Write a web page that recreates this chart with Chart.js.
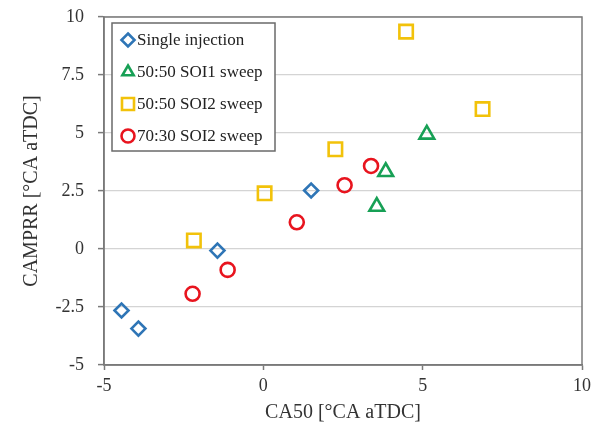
<!DOCTYPE html>
<html>
<head>
<meta charset="utf-8">
<script src="https://cdn.jsdelivr.net/npm/chart.js@4/dist/chart.umd.min.js"></script>
<style>
  html, body { margin: 0; padding: 0; background: #fff; }
  canvas { display: block; }
</style>
</head>
<body>
<canvas id="chart" width="606" height="432"></canvas>
<script>
// Data
const singleX = [-4.45, -3.92, -1.44, 1.5];
const singleY = [-2.65, -3.43, -0.07, 2.52];

const soi1X = [5.13, 3.84, 3.56];
const soi1Y = [4.94, 3.33, 1.83];

const soi2X = [-2.18, 0.04, 2.26, 4.48, 6.88];
const soi2Y = [0.37, 2.4, 4.3, 9.37, 6.03];

const r7030X = [-2.22, -1.12, 1.05, 2.55, 3.38];
const r7030Y = [-1.93, -0.9, 1.15, 2.75, 3.58];

const seriesNames = ["Single injection", "50:50 SOI1 sweep", "50:50 SOI2 sweep", "70:30 SOI2 sweep"];

const xTicks = [-5, 0, 5, 10];
const yTicks = [-5, -2.5, 0, 2.5, 5, 7.5, 10];

const FONT = "'Liberation Serif', 'Times New Roman', serif";

function pts(xs, ys) {
  return xs.map((x, i) => ({ x: x, y: ys[i] }));
}

function series(label, xs, ys, color, style, radius) {
  return {
    label: label,
    data: pts(xs, ys),
    borderColor: color,
    backgroundColor: "rgba(0,0,0,0)",
    pointStyle: style,
    pointRadius: radius,
    pointBorderWidth: 2.6,
    showLine: false
  };
}

// draw a marker like the chart does (used for the legend)
function marker(ctx, style, x, y, r) {
  ctx.beginPath();
  if (style === "circle") {
    ctx.arc(x, y, r, 0, Math.PI * 2);
  } else if (style === "rect") {
    const s = Math.SQRT1_2 * r;
    ctx.rect(x - s, y - s, 2 * s, 2 * s);
  } else if (style === "rectRot") {
    ctx.moveTo(x, y - r); ctx.lineTo(x + r, y); ctx.lineTo(x, y + r); ctx.lineTo(x - r, y);
    ctx.closePath();
  } else if (style === "triangle") {
    for (let k = 0; k < 3; k++) {
      const a = k * 2 * Math.PI / 3;
      const px = x + Math.sin(a) * r, py = y - Math.cos(a) * r;
      k === 0 ? ctx.moveTo(px, py) : ctx.lineTo(px, py);
    }
    ctx.closePath();
  }
  ctx.stroke();
}

// box around the plot area + legend inside top-left
const framePlugin = {
  id: "frame",
  afterDraw(chart) {
    const { ctx, chartArea: a } = chart;
    ctx.save();
    ctx.strokeStyle = "#7a7a7a";
    ctx.lineWidth = 1.5;
    ctx.strokeRect(a.left, a.top, a.right - a.left, a.bottom - a.top);

    // legend
    const bx = 112, by = 23, bw = 163, bh = 128;
    ctx.fillStyle = "#fff";
    ctx.fillRect(bx, by, bw, bh);
    ctx.strokeStyle = "#6a6a6a";
    ctx.lineWidth = 1.5;
    ctx.strokeRect(bx, by, bw, bh);
    ctx.font = "17px " + FONT;
    ctx.textBaseline = "middle";
    ctx.textAlign = "left";
    chart.data.datasets.forEach((ds, i) => {
      const y = 40 + i * 32;
      ctx.strokeStyle = ds.borderColor;
      ctx.lineWidth = 2.6;
      marker(ctx, ds.pointStyle, 128, y, ds.pointStyle === "rect" ? 8.5 : 6.5);
      ctx.fillStyle = "#222";
      ctx.fillText(ds.label, 137, y + 1);
    });
    ctx.restore();
  }
};

const ctx = document.getElementById("chart").getContext("2d");
new Chart(ctx, {
  type: "scatter",
  data: {
    datasets: [
      series(seriesNames[0], singleX, singleY, "#2e75b6", "rectRot", 7),
      series(seriesNames[1], soi1X, soi1Y, "#17a055", "triangle", 8.5),
      series(seriesNames[2], soi2X, soi2Y, "#f2c20a", "rect", 9.5),
      series(seriesNames[3], r7030X, r7030Y, "#e8141e", "circle", 7)
    ]
  },
  options: {
    responsive: false,
    animation: false,
    devicePixelRatio: 1,
    layout: { padding: { top: 17, right: 24, left: 0, bottom: 0 } },
    plugins: {
      legend: { display: false },
      tooltip: { enabled: false }
    },
    scales: {
      x: {
        type: "linear",
        min: -5,
        max: 10,
        afterBuildTicks: s => { s.ticks = xTicks.map(v => ({ value: v })); },
        afterFit: s => { s.height = 67; s.paddingLeft = 0; s.paddingRight = 0; },
        grid: { drawOnChartArea: false, drawTicks: true, tickLength: 5, tickColor: "#7a7a7a", tickWidth: 1.5 },
        border: { color: "#7a7a7a", width: 1.5 },
        ticks: { color: "#333", font: { family: FONT, size: 18 }, padding: 5, maxRotation: 0 },
        title: { display: true, text: "CA50 [°CA aTDC]", color: "#333", font: { family: FONT, size: 20 }, padding: { top: 0, bottom: 7 } }
      },
      y: {
        type: "linear",
        min: -5,
        max: 10,
        afterBuildTicks: s => { s.ticks = yTicks.map(v => ({ value: v })); },
        afterFit: s => { s.width = 104; s.paddingTop = 0; s.paddingBottom = 0; },
        grid: { color: "#d4d4d4", lineWidth: 1.2, drawTicks: true, tickLength: 6, tickColor: "#7a7a7a", tickWidth: 1.5 },
        border: { color: "#7a7a7a", width: 1.5 },
        ticks: { color: "#333", font: { family: FONT, size: 18 }, padding: 14 },
        title: { display: true, text: "CAMPRR [°CA aTDC]", color: "#333", font: { family: FONT, size: 20 }, padding: { top: 20, bottom: 0 } }
      }
    }
  },
  plugins: [framePlugin]
});
</script>
</body>
</html>
